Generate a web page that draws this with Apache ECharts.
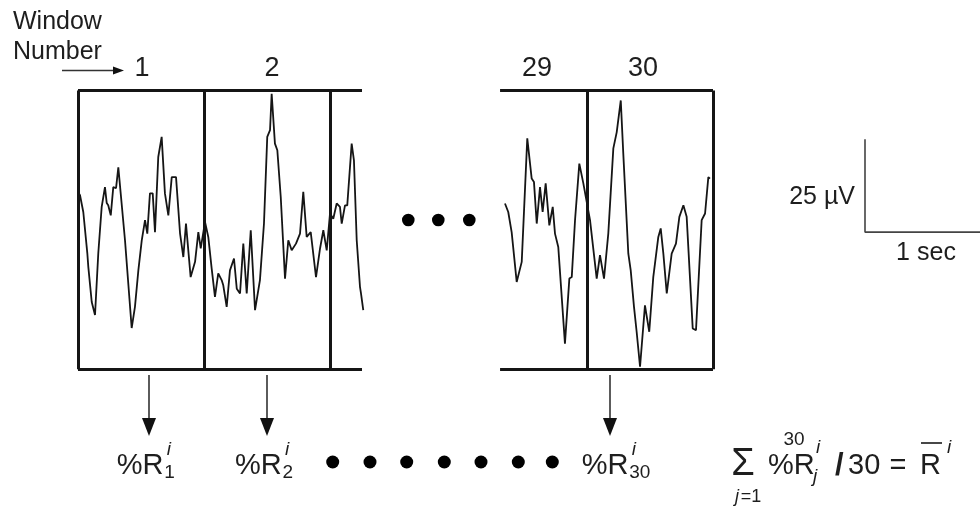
<!DOCTYPE html>
<html>
<head>
<meta charset="utf-8">
<script src="https://cdn.jsdelivr.net/npm/echarts@6/dist/echarts.min.js"></script>
<style>
  html, body { margin: 0; padding: 0; background: #fff; }
  #chart { width: 980px; height: 512px; }
</style>
</head>
<body>
<div id="chart"></div>
<script>
// EEG trace, windows 1-3 (time in s from window 1 start, amplitude in µV)
const trace1Time = [0, 0.016, 0.042, 0.074, 0.082, 0.109, 0.135, 0.161, 0.188, 0.214, 0.228, 0.240, 0.260, 0.280, 0.302, 0.320,
  0.373, 0.426, 0.452, 0.479, 0.506, 0.532, 0.550, 0.571, 0.593, 0.611, 0.637, 0.664, 0.690, 0.717, 0.744, 0.778,
  0.810, 0.836, 0.857, 0.894, 0.929, 0.955, 0.974, 1.008, 1.034, 1.061, 1.087, 1.113, 1.140, 1.153, 1.180, 1.206,
  1.238, 1.260, 1.286, 1.312, 1.339, 1.371, 1.405, 1.444, 1.476, 1.502, 1.524, 1.537, 1.563, 1.582, 1.609, 1.643,
  1.669, 1.696, 1.730, 1.762, 1.788, 1.815, 1.847, 1.889, 1.921, 1.947, 1.974, 2.000, 2.026, 2.053, 2.079, 2.093,
  2.119, 2.137, 2.172, 2.190, 2.212, 2.238, 2.246, 2.264];
const trace1Uv = [10.3, 9.4, 4.9, -6.2, -9.9, -19.3, -22.8, -6.2, 6.3, 11.6, 7.3, 6.7, 4.0, 11.6, 11.3, 16.9,
  -2.7, -26.3, -20.6, -10.8, -2.7, 2.7, -0.9, 9.9, 9.9, -0.5, 19.7, 25.1, 9.9, 4.0, 14.3, 14.3,
  -0.9, -7.2, 1.8, -12.6, -8.5, -0.5, -4.9, 2.2, -1.8, -10.3, -17.9, -11.6, -13.4, -14.8, -20.6, -10.8,
  -7.6, -15.7, -17.0, -3.6, -17.0, 0, -21.5, -13.4, 1.8, 25.1, 26.9, 36.7, 23.3, 21.5, 9.0, -13.0,
  -2.7, -5.4, -3.6, -0.9, 10.3, -1.8, -0.5, -12.6, -4.9, 0, -5.4, 4.5, 3.1, 7.2, 6.3, 1.8,
  6.7, 6.7, 23.3, 18.8, -2.7, -15.2, -17.0, -21.5];

// EEG trace, windows 29-30
const trace2Time = [28.349, 28.375, 28.402, 28.442, 28.482, 28.526, 28.561, 28.579, 28.601, 28.627, 28.648, 28.672, 28.701, 28.728,
  28.746, 28.772, 28.825, 28.860, 28.879, 28.905, 28.939, 28.971, 29.024, 29.077, 29.103, 29.135, 29.169, 29.209,
  29.236, 29.249, 29.268, 29.288, 29.328, 29.347, 29.373, 29.394, 29.421, 29.460, 29.494, 29.526, 29.566, 29.585,
  29.606, 29.633, 29.672, 29.706, 29.733, 29.765, 29.791, 29.839, 29.865, 29.910, 29.937, 29.963, 29.976];
const trace2Uv = [7.2, 4.9, -0.5, -13.9, -8.5, 24.7, 13.9, 13.0, 1.8, 11.6, 4.9, 12.6, 1.3, 6.3,
  -0.9, -4.5, -30.5, -13.0, -12.6, 2.7, 17.9, 12.6, 2.7, -13.0, -6.7, -13.0, -0.9, 22.0,
  26.4, 26.9, 34.9, 20.6, -6.3, -10.8, -20.6, -27.3, -36.7, -20.2, -27.3, -12.6, -1.8, 0.5,
  -6.3, -17.0, -6.3, -3.6, 3.6, 6.7, 3.6, -26.4, -26.9, 2.7, 4.5, 14.3, 13.9];

// analysis windows (1 s each)
const windowLabels = ['1', '2', '29', '30'];
const windowLabelX = [142, 272, 537, 643];
const frame1Edges = [0, 1, 2];
const frame1Span = [0, 2.254];
const frame2Edges = [29, 30];
const frame2Span = [28.31, 30];
const frameTop = 37.6;
const frameBottom = -37.4;

// calibration bar
const scaleSec = 1;
const scaleUv = 25;

const ink = '#151515';
const textInk = '#1e1e1e';
const FONT = '"Liberation Sans", Arial, sans-serif';

function frameSegments(edges, span) {
  const segs = [
    { coords: [[span[0], frameTop], [span[1], frameTop]] },
    { coords: [[span[0], frameBottom], [span[1], frameBottom]] }
  ];
  edges.forEach(e => segs.push({ coords: [[e, frameBottom], [e, frameTop]] }));
  return segs;
}

function txt(text, x, y, size, opts) {
  opts = opts || {};
  return {
    type: 'text', x: x, y: y, silent: true,
    style: {
      text: text,
      font: (opts.italic ? 'italic ' : '') + (opts.bold ? 'bold ' : '') + size + 'px ' + FONT,
      fill: textInk,
      align: opts.align || 'left', textAlign: opts.align || 'left',
      verticalAlign: 'middle', textVerticalAlign: 'middle'
    }
  };
}

function downArrow(x) {
  return [
    { type: 'line', shape: { x1: x, y1: 375, x2: x, y2: 422 }, style: { stroke: '#333', lineWidth: 1.6 } },
    { type: 'polygon', shape: { points: [[x - 7, 418], [x + 7, 418], [x, 436]] }, style: { fill: '#111' } }
  ];
}

function dot(cx, cy, r) {
  return { type: 'circle', shape: { cx: cx, cy: cy, r: r }, style: { fill: '#000' } };
}

function rLabel(left, sub) {
  return [
    txt('%R', left, 466, 29),
    txt('i', left + 50, 450, 19, { italic: true }),
    txt(sub, left + 47.5, 473, 19)
  ];
}

const chart = echarts.init(document.getElementById('chart'), null, { renderer: 'canvas' });

const yAxisBase = { type: 'value', min: -40, max: 40.4, show: false };

const graphics = [
  txt('Window', 13, 22.5, 25),
  txt('Number', 13, 52.5, 25),
  { type: 'line', shape: { x1: 62, y1: 70.5, x2: 116, y2: 70.5 }, style: { stroke: '#333', lineWidth: 1.6 } },
  { type: 'polygon', shape: { points: [[113, 66.5], [113, 74.5], [124, 70.5]] }, style: { fill: '#111' } },
  // scale labels
  txt('25 µV', 855, 197, 25, { align: 'right' }),
  txt('1 sec', 926, 253, 25, { align: 'center' }),
  // summary formula
  txt('Σ', 743, 465, 38, { align: 'center' }),
  txt('30', 794, 440, 19, { align: 'center' }),
  txt('j', 737, 497, 18, { italic: true, align: 'center' }),
  txt('=1', 751, 497, 18, { align: 'center' }),
  txt('%R', 768, 466, 29),
  txt('i', 816, 448, 19, { italic: true }),
  txt('j', 813, 477, 19, { italic: true }),
  txt('/', 835, 466, 31, { bold: true }),
  txt('30', 848, 466, 29),
  txt('=', 898, 466, 29, { align: 'center' }),
  txt('R', 920, 466, 29),
  { type: 'line', shape: { x1: 921, y1: 443, x2: 942, y2: 443 }, style: { stroke: '#333', lineWidth: 1.8 } },
  txt('i', 947, 448, 19, { italic: true })
];

windowLabels.forEach((lab, i) => graphics.push(txt(lab, windowLabelX[i], 69, 27, { align: 'center' })));
[149, 267, 610].forEach(x => graphics.push(...downArrow(x)));
graphics.push(...rLabel(116.7, '1'));
graphics.push(...rLabel(235, '2'));
graphics.push(...rLabel(581.7, '30'));
[408.3, 438.3, 469.3].forEach(x => graphics.push(dot(x, 220, 6.3)));
[332.7, 370, 406.7, 444.3, 481, 518.3, 552.3].forEach(x => graphics.push(dot(x, 462, 6.5)));

const option = {
  animation: false,
  backgroundColor: '#fff',
  grid: [
    { left: 78, top: 80, width: 315, height: 299 },
    { left: 461, top: 80, width: 252, height: 299 },
    { left: 865, top: 80, width: 126, height: 299 }
  ],
  xAxis: [
    { type: 'value', gridIndex: 0, min: 0, max: 2.5, show: false },
    { type: 'value', gridIndex: 1, min: 28, max: 30, show: false },
    { type: 'value', gridIndex: 2, min: 0, max: 1, show: false }
  ],
  yAxis: [
    Object.assign({ gridIndex: 0 }, yAxisBase),
    Object.assign({ gridIndex: 1 }, yAxisBase),
    Object.assign({ gridIndex: 2 }, yAxisBase)
  ],
  series: [
    {
      type: 'line', xAxisIndex: 0, yAxisIndex: 0, symbol: 'none', clip: false,
      data: trace1Time.map((t, i) => [t, trace1Uv[i]]),
      lineStyle: { color: ink, width: 1.8 }
    },
    {
      type: 'line', xAxisIndex: 1, yAxisIndex: 1, symbol: 'none', clip: false,
      data: trace2Time.map((t, i) => [t, trace2Uv[i]]),
      lineStyle: { color: ink, width: 1.8 }
    },
    {
      type: 'lines', coordinateSystem: 'cartesian2d', xAxisIndex: 0, yAxisIndex: 0, clip: false,
      data: frameSegments(frame1Edges, frame1Span),
      lineStyle: { color: ink, width: 3, opacity: 1 }
    },
    {
      type: 'lines', coordinateSystem: 'cartesian2d', xAxisIndex: 1, yAxisIndex: 1, clip: false,
      data: frameSegments(frame2Edges, frame2Span),
      lineStyle: { color: ink, width: 3, opacity: 1 }
    },
    {
      type: 'line', xAxisIndex: 2, yAxisIndex: 2, symbol: 'none', clip: false,
      data: [[0, scaleUv - 0.5], [0, -0.5], [scaleSec, -0.5]],
      lineStyle: { color: '#444', width: 1.6 }
    }
  ],
  graphic: graphics
};

chart.setOption(option);
</script>
</body>
</html>
